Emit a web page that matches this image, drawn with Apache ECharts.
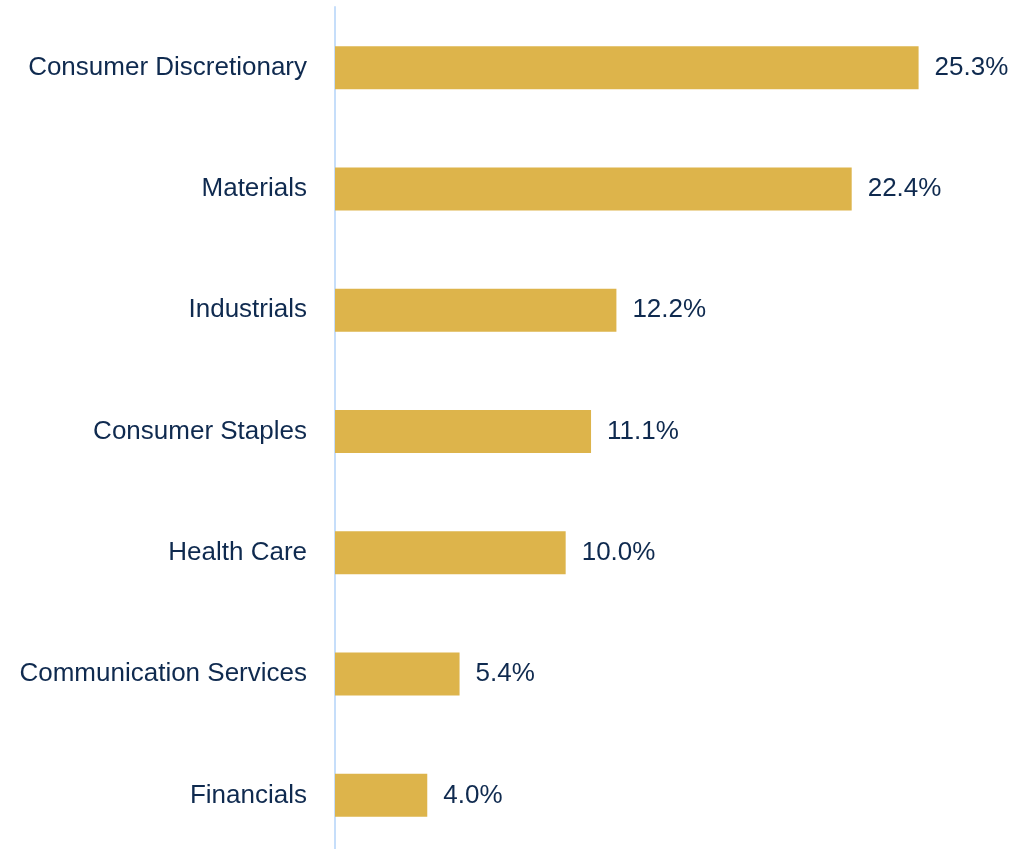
<!DOCTYPE html>
<html>
<head>
<meta charset="utf-8">
<script src="https://cdn.jsdelivr.net/npm/echarts@6/dist/echarts.min.js"></script>
<style>
  html, body { margin: 0; padding: 0; background: #fff; }
  #main { width: 1029px; height: 849px; }
</style>
</head>
<body>
<div id="main"></div>
<script>
  // sectors, top to bottom as drawn
  const sectors = [
    "Consumer Discretionary",
    "Materials",
    "Industrials",
    "Consumer Staples",
    "Health Care",
    "Communication Services",
    "Financials",
  ];
  const weights = [25.3, 22.4, 12.2, 11.1, 10.0, 5.4, 4.0];

  const font = '"Liberation Sans Narrow", "Arial Narrow", "Liberation Sans", Arial, sans-serif';
  const textColor = "#0f2a4f";

  const chart = echarts.init(document.getElementById("main"));
  chart.setOption({
    animation: false,
    grid: { left: 335, top: 7, width: 692, height: 849, outerBoundsMode: "none" },
    xAxis: {
      type: "value",
      min: 0,
      max: 30,
      show: false,
    },
    yAxis: {
      type: "category",
      inverse: true,
      data: sectors,
      axisLine: { show: true, lineStyle: { color: "#c6defa", width: 2 } },
      axisTick: { show: false },
      axisLabel: {
        color: textColor,
        fontFamily: font,
        fontSize: 26,
        margin: 28,
      },
    },
    series: [
      {
        type: "bar",
        data: weights,
        barWidth: 43,
        itemStyle: { color: "#ddb44b" },
        label: {
          show: true,
          position: "right",
          distance: 16,
          color: textColor,
          fontFamily: font,
          fontSize: 26,
          formatter: (p) => p.value.toFixed(1) + "%",
        },
      },
    ],
  });
</script>
</body>
</html>
